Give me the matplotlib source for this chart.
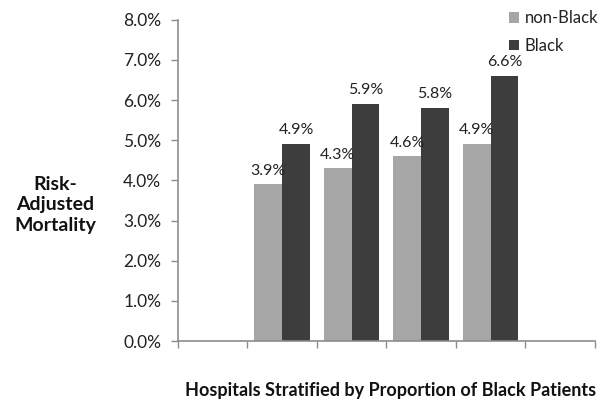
import matplotlib
matplotlib.use("Agg")
import matplotlib.pyplot as plt
import numpy as np
from matplotlib.ticker import FuncFormatter, FixedLocator

plt.rcParams['font.family'] = ['Lato', 'DejaVu Sans']

# Six slots on the x axis; the first and last are empty
groups = ["", "Q1", "Q2", "Q3", "Q4", ""]
non_black = [np.nan, 3.9, 4.3, 4.6, 4.9, np.nan]
black = [np.nan, 4.9, 5.9, 5.8, 6.6, np.nan]
y_ticks = [0, 1, 2, 3, 4, 5, 6, 7, 8]

grey_c = "#a6a6a6"
dark_c = "#3d3d3d"
axis_c = "#8c8c8c"
text_c = "#222222"

fig = plt.figure(figsize=(6.07, 4.05), dpi=100)
ax = fig.add_axes([0.293, 0.158, 0.687, 0.793])

x = np.arange(len(groups))
w = 0.4
b1 = ax.bar(x - w / 2, non_black, w, color=grey_c, label="non-Black")
b2 = ax.bar(x + w / 2, black, w, color=dark_c, label="Black")

for bars, vals in ((b1, non_black), (b2, black)):
    for rect, v in zip(bars, vals):
        if np.isnan(v):
            continue
        ax.text(rect.get_x() + rect.get_width() / 2, v + 0.17, f"{v:.1f}%",
                ha="center", va="bottom", fontsize=11.5, color=text_c)

ax.set_xlim(-0.5, len(groups) - 0.5)
ax.set_ylim(0, 8)
ax.yaxis.set_major_locator(FixedLocator(y_ticks))
ax.yaxis.set_major_formatter(FuncFormatter(lambda v, p: f"{v:.1f}%"))
ax.xaxis.set_major_locator(FixedLocator(np.arange(len(groups) + 1) - 0.5))
ax.set_xticklabels([])

for side in ("top", "right"):
    ax.spines[side].set_visible(False)
for side in ("left", "bottom"):
    ax.spines[side].set_color(axis_c)
    ax.spines[side].set_linewidth(1.2)
ax.tick_params(axis="both", colors=axis_c, length=5, width=1.0, direction="out")
ax.tick_params(axis="y", labelcolor=text_c, labelsize=12.5, pad=7)

fig.text(0.091, 0.494, "Risk-\nAdjusted\nMortality", ha="center", va="center",
         fontsize=14, fontweight="bold", color="#111111", linespacing=1.25)
fig.text(0.643, 0.037, "Hospitals Stratified by Proportion of Black Patients",
         ha="center", va="center", fontsize=13, fontweight="bold", color="#111111")

leg = fig.legend(handles=[b1, b2], loc="upper left", bbox_to_anchor=(0.838, 0.975),
                 frameon=False, fontsize=12, handlelength=0.6, handleheight=0.6,
                 handletextpad=0.35, labelspacing=0.7, borderpad=0,
                 borderaxespad=0)
for t in leg.get_texts():
    t.set_color(text_c)

fig.savefig("out.png", dpi=100)
